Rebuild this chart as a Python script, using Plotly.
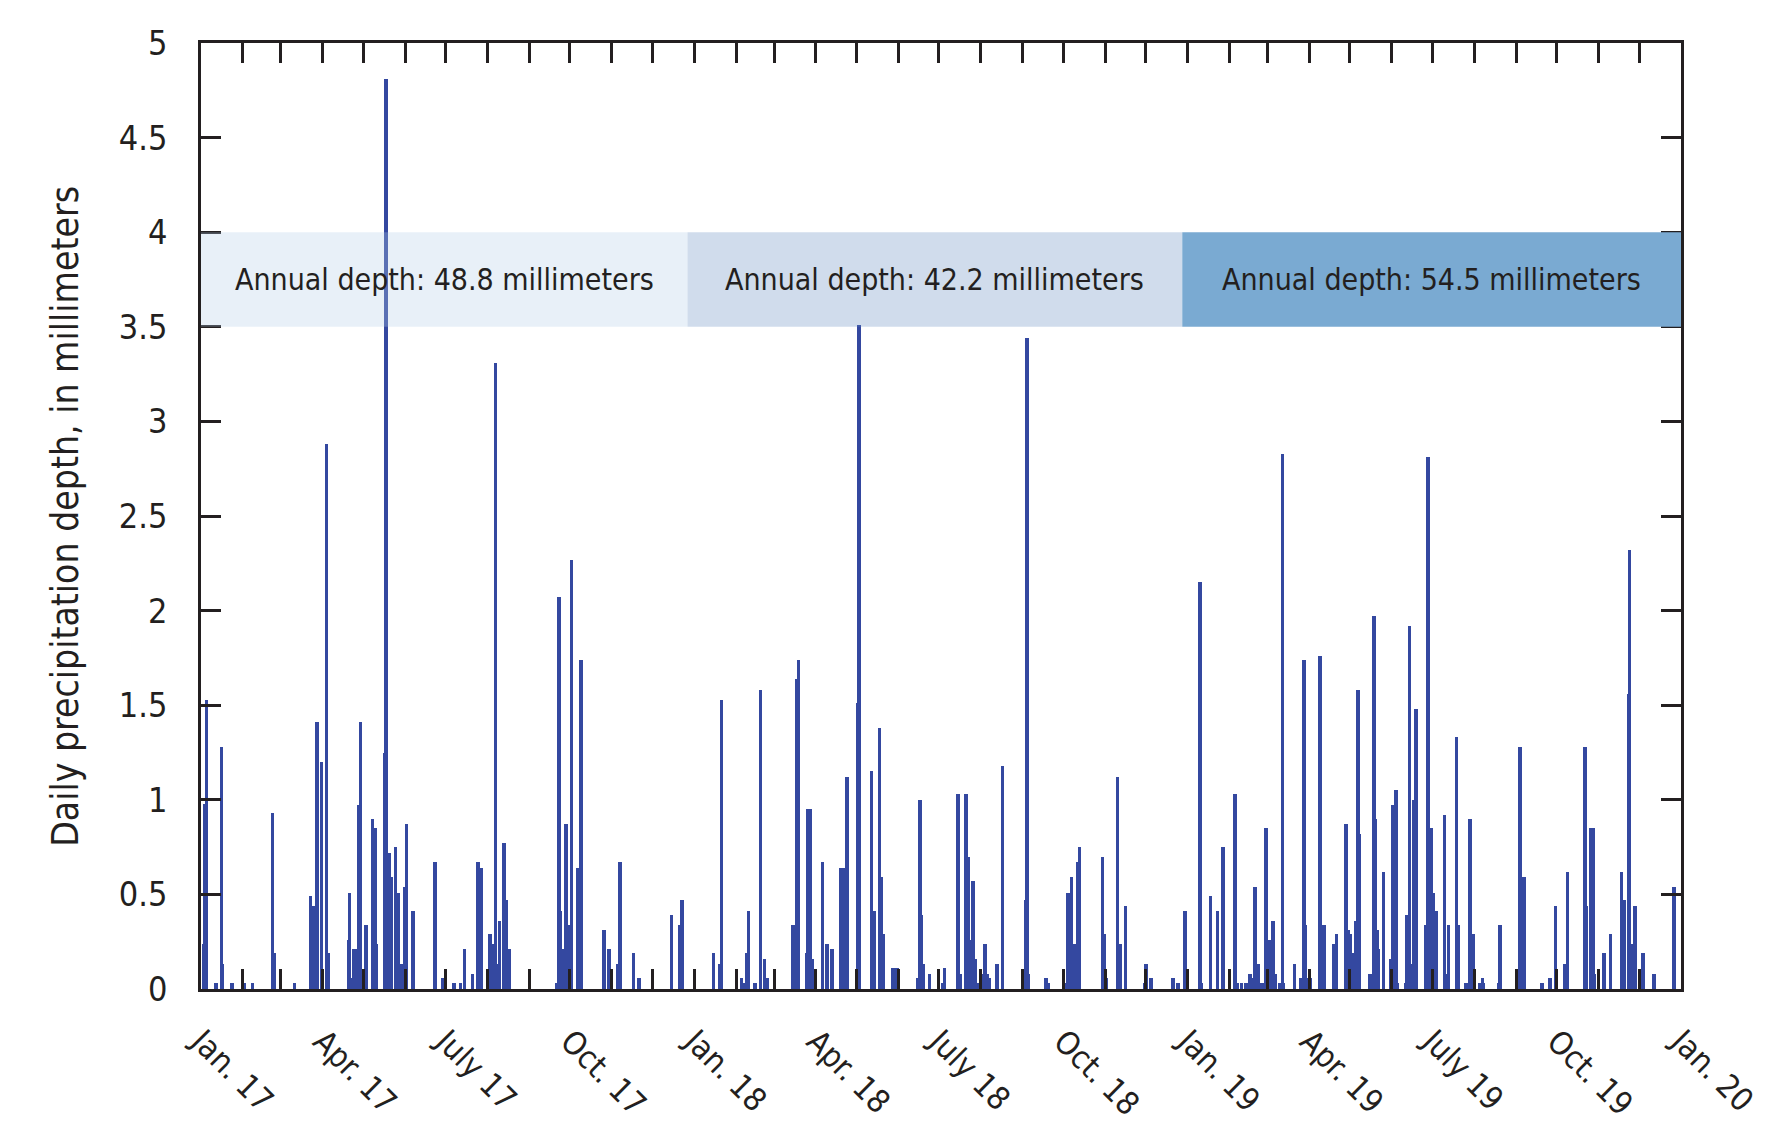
import plotly.graph_objects as go
import pandas as pd

# ---- Data ----
dates = [
    # 2017
    "2017-01-03", "2017-01-04", "2017-01-05", "2017-01-12", "2017-01-16", "2017-01-17", "2017-01-24",
    "2017-02-02", "2017-02-08", "2017-02-23", "2017-02-24", "2017-03-11", "2017-03-23", "2017-03-25",
    "2017-03-26", "2017-03-28", "2017-03-31", "2017-04-01", "2017-04-04", "2017-04-05", "2017-04-20",
    "2017-04-21", "2017-04-23", "2017-04-24", "2017-04-26", "2017-04-27", "2017-04-28", "2017-04-29",
    "2017-05-03", "2017-05-08", "2017-05-10", "2017-05-11", "2017-05-17", "2017-05-18", "2017-05-19",
    "2017-05-20", "2017-05-22", "2017-05-25", "2017-05-27", "2017-05-29", "2017-06-01", "2017-06-02",
    "2017-06-07", "2017-06-23", "2017-06-29", "2017-07-07", "2017-07-12", "2017-07-15", "2017-07-21",
    "2017-07-25", "2017-07-27", "2017-08-03", "2017-08-05", "2017-08-07", "2017-08-08", "2017-08-10",
    "2017-08-13", "2017-08-15", "2017-08-17", "2017-09-21", "2017-09-23", "2017-09-24", "2017-09-26",
    "2017-09-28", "2017-09-30", "2017-10-02", "2017-10-07", "2017-10-09", "2017-10-26", "2017-10-30",
    "2017-11-05", "2017-11-07", "2017-11-17", "2017-11-21", "2017-12-15", "2017-12-21", "2017-12-23",
    # 2018
    "2018-01-15", "2018-01-20", "2018-01-21", "2018-02-05", "2018-02-06", "2018-02-09", "2018-02-10",
    "2018-02-15", "2018-02-19", "2018-02-22", "2018-02-24", "2018-03-15", "2018-03-18", "2018-03-19",
    "2018-03-25", "2018-03-26", "2018-03-28", "2018-03-29", "2018-04-06", "2018-04-09", "2018-04-13",
    "2018-04-19", "2018-04-21", "2018-04-24", "2018-05-02", "2018-05-03", "2018-05-12", "2018-05-14",
    "2018-05-18", "2018-05-19", "2018-05-21", "2018-05-28", "2018-05-31", "2018-06-15", "2018-06-17",
    "2018-06-18", "2018-06-19", "2018-06-24", "2018-07-04", "2018-07-05", "2018-07-15", "2018-07-17",
    "2018-07-21", "2018-07-23", "2018-07-24", "2018-07-26", "2018-07-28", "2018-07-29", "2018-08-02",
    "2018-08-04", "2018-08-06", "2018-08-07", "2018-08-13", "2018-08-17", "2018-09-03", "2018-09-04",
    "2018-09-05", "2018-09-18", "2018-09-20", "2018-10-02", "2018-10-04", "2018-10-06", "2018-10-07",
    "2018-10-08", "2018-10-10", "2018-10-12", "2018-10-13", "2018-10-30", "2018-10-31", "2018-11-02",
    "2018-11-10", "2018-11-12", "2018-11-16", "2018-11-30", "2018-12-01", "2018-12-05", "2018-12-21",
    "2018-12-25", "2018-12-30",
    # 2019
    "2019-01-10", "2019-01-11", "2019-01-18", "2019-01-23", "2019-01-27", "2019-02-05", "2019-02-07",
    "2019-02-10", "2019-02-13", "2019-02-14", "2019-02-16", "2019-02-18", "2019-02-20", "2019-02-22",
    "2019-02-25", "2019-02-28", "2019-03-02", "2019-03-05", "2019-03-07", "2019-03-10", "2019-03-12",
    "2019-03-13", "2019-03-21", "2019-03-26", "2019-03-28", "2019-03-29", "2019-03-31", "2019-04-02",
    "2019-04-09", "2019-04-10", "2019-04-12", "2019-04-19", "2019-04-21", "2019-04-28", "2019-04-30",
    "2019-05-01", "2019-05-04", "2019-05-05", "2019-05-07", "2019-05-08", "2019-05-16", "2019-05-19",
    "2019-05-20", "2019-05-21", "2019-05-22", "2019-05-26", "2019-05-31", "2019-06-02", "2019-06-04",
    "2019-06-05", "2019-06-11", "2019-06-12", "2019-06-14", "2019-06-15", "2019-06-17", "2019-06-19",
    "2019-06-26", "2019-06-28", "2019-06-30", "2019-07-02", "2019-07-04", "2019-07-10", "2019-07-11",
    "2019-07-13", "2019-07-19", "2019-07-20", "2019-07-26", "2019-07-29", "2019-07-31", "2019-08-05",
    "2019-08-07", "2019-08-08", "2019-08-19", "2019-08-20", "2019-09-04", "2019-09-07", "2019-09-20",
    "2019-09-26", "2019-09-30", "2019-10-07", "2019-10-09", "2019-10-22", "2019-10-23", "2019-10-26",
    "2019-10-28", "2019-10-29", "2019-11-05", "2019-11-10", "2019-11-18", "2019-11-20", "2019-11-23",
    "2019-11-24", "2019-11-26", "2019-11-28", "2019-12-04", "2019-12-12", "2019-12-27",
]

precip_mm = [
    # 2017
    0.24, 0.98, 1.53, 0.03, 1.28, 0.13, 0.03,
    0.03, 0.03, 0.93, 0.19, 0.03, 0.49, 0.44,
    0.15, 1.41, 1.20, 0.06, 2.88, 0.19, 0.26,
    0.51, 0.06, 0.21, 0.21, 0.06, 0.97, 1.41,
    0.34, 0.90, 0.85, 0.24, 1.25, 4.81, 0.32,
    0.72, 0.59, 0.75, 0.51, 0.13, 0.54, 0.87,
    0.41, 0.67, 0.06, 0.03, 0.03, 0.21, 0.08,
    0.67, 0.64, 0.29, 0.24, 3.31, 0.13, 0.36,
    0.77, 0.47, 0.21, 0.03, 2.07, 0.41, 0.21,
    0.87, 0.34, 2.27, 0.64, 1.74, 0.31, 0.21,
    0.13, 0.67, 0.19, 0.06, 0.39, 0.34, 0.47,
    # 2018
    0.19, 0.13, 1.53, 0.06, 0.03, 0.19, 0.41,
    0.03, 1.58, 0.16, 0.06, 0.34, 1.64, 1.74,
    0.19, 0.95, 0.95, 0.16, 0.67, 0.24, 0.21,
    0.64, 0.64, 1.12, 1.51, 3.51, 1.15, 0.41,
    1.38, 0.59, 0.29, 0.11, 0.11, 0.06, 1.00,
    0.39, 0.13, 0.08, 0.03, 0.11, 1.03, 0.08,
    1.03, 0.70, 0.26, 0.57, 0.16, 0.03, 0.08,
    0.24, 0.08, 0.06, 0.13, 1.18, 0.47, 3.44,
    0.08, 0.06, 0.03, 0.03, 0.51, 0.51, 0.59,
    0.24, 0.24, 0.67, 0.75, 0.70, 0.29, 0.06,
    1.12, 0.24, 0.44, 0.03, 0.13, 0.06, 0.06,
    0.03, 0.41,
    # 2019
    2.15, 0.03, 0.49, 0.41, 0.75, 1.03, 0.03,
    0.03, 0.03, 0.03, 0.08, 0.06, 0.54, 0.13,
    0.03, 0.85, 0.26, 0.36, 0.08, 0.03, 2.83,
    0.03, 0.13, 0.06, 1.74, 0.34, 0.06, 0.06,
    1.76, 0.11, 0.34, 0.24, 0.29, 0.87, 0.31,
    0.29, 0.19, 0.36, 1.58, 0.82, 0.08, 1.97,
    0.90, 0.31, 0.21, 0.62, 0.16, 0.97, 1.05,
    0.03, 0.03, 0.39, 1.92, 0.13, 1.00, 1.48,
    0.34, 2.81, 0.85, 0.51, 0.41, 0.92, 0.08,
    0.34, 1.33, 0.34, 0.03, 0.90, 0.29, 0.03,
    0.06, 0.03, 0.03, 0.34, 1.28, 0.59, 0.03,
    0.06, 0.44, 0.13, 0.62, 1.28, 0.44, 0.85,
    0.85, 0.08, 0.19, 0.29, 0.62, 0.47, 1.56,
    2.32, 0.24, 0.44, 0.19, 0.08, 0.54,
]

# Annual depth bands
band_starts = ["2017-01-01", "2017-12-27", "2018-12-28"]
band_ends = ["2017-12-27", "2018-12-28", "2020-01-01"]
band_labels = ["Annual depth: 48.8 millimeters",
               "Annual depth: 42.2 millimeters",
               "Annual depth: 54.5 millimeters"]
band_colors = ["rgba(178,205,232,0.30)", "rgba(98,138,192,0.30)", "rgb(122,170,210)"]
band_low, band_high = 3.5, 4.0

# Axis ticks
month_ticks = pd.date_range("2017-01-01", "2020-01-01", freq="MS")
quarter_labels = {1: "Jan.", 4: "Apr.", 7: "July", 10: "Oct."}
tick_text = [f"{quarter_labels[d.month]} {d.strftime('%y')}" if d.month in quarter_labels else ""
             for d in month_ticks]
y_ticks = [0, 0.5, 1, 1.5, 2, 2.5, 3, 3.5, 4, 4.5, 5]

FONT = "Liberation Sans Narrow, DejaVu Sans Condensed, Arial Narrow, sans-serif"
INK = "#231f20"
BAR = "#3448a0"

fig = go.Figure()
fig.add_trace(go.Bar(
    x=pd.to_datetime(dates), y=precip_mm,
    width=2.6 * 86400000,
    marker=dict(color=BAR, line=dict(width=0)),
    showlegend=False,
))

for s, e, lab, col in zip(band_starts, band_ends, band_labels, band_colors):
    fig.add_shape(type="rect", xref="x", yref="y", x0=s, x1=e, y0=band_low, y1=band_high,
                  fillcolor=col, line=dict(width=0), layer="above")
    mid = pd.Timestamp(s) + (pd.Timestamp(e) - pd.Timestamp(s)) / 2
    fig.add_annotation(x=mid, y=(band_low + band_high) / 2, xref="x", yref="y",
                       text=lab, showarrow=False,
                       font=dict(family=FONT, size=30, color=INK))

fig.add_annotation(text="Daily precipitation depth, in millimeters",
                   xref="paper", yref="paper", x=-0.092, y=0.5,
                   xanchor="center", yanchor="middle", textangle=-90, showarrow=False,
                   font=dict(family=FONT, size=37, color=INK))

fig.update_layout(
    width=1766, height=1120,
    margin=dict(l=193, r=93, t=35, b=139, autoexpand=False),
    paper_bgcolor="white", plot_bgcolor="white",
    bargap=0,
    font=dict(family=FONT, size=34, color=INK),
)
fig.update_xaxes(
    type="date", range=["2017-01-01", "2020-01-01"],
    tickmode="array", tickvals=month_ticks, ticktext=tick_text,
    ticks="inside", ticklen=20, tickwidth=2.5, tickcolor=INK,
    showline=True, linewidth=2.5, linecolor=INK, mirror="ticks",
    showgrid=False, zeroline=False, tickangle=45, automargin=False,
    ticklabelstandoff=18,
    tickfont=dict(family=FONT, size=32, color=INK),
)
fig.update_yaxes(
    range=[0, 5], tickmode="array", tickvals=y_ticks,
    ticks="inside", ticklen=20, tickwidth=2.5, tickcolor=INK,
    showline=True, linewidth=2.5, linecolor=INK, mirror="ticks",
    showgrid=False, zeroline=False, automargin=False,
    ticklabelstandoff=24,
    tickfont=dict(family=FONT, size=34, color=INK),
)

fig.write_html("out.html")
